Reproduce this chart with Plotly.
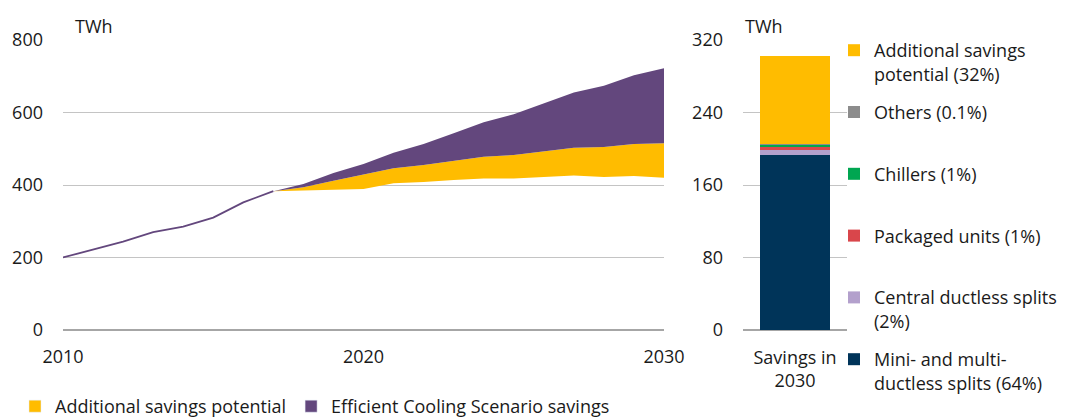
import plotly.graph_objects as go

# ---- data ----
hist_years = [2010, 2011, 2012, 2013, 2014, 2015, 2016, 2017]
hist_values = [200, 221, 244, 270, 285, 310, 352, 383]

proj_years = list(range(2017, 2031))
baseline = [383, 385, 386, 389, 405, 408, 414, 418, 418, 422, 426, 422, 425, 420]
additional_savings = [0, 9, 26, 41, 41, 47, 53, 60, 65, 72, 77, 83, 88, 95]
ecs_savings = [0, 9, 21, 28, 43, 58, 76, 95, 112, 131, 152, 169, 190, 207]

left_legend_names = ["Additional savings potential", "Efficient Cooling Scenario savings"]

bar_category = ["Savings in<br>2030"]
bar_names = [
    "Mini- and multi-<br>ductless splits (64%)",
    "Central ductless splits<br>(2%)",
    "Packaged units (1%)<br> ",
    "Chillers (1%)<br> ",
    "Others (0.1%)<br> ",
    "Additional savings<br>potential (32%)",
]
bar_values = [193.5, 5, 3.5, 2.5, 0.3, 97.5]
bar_colors = ["#003459", "#B3A0CC", "#D9464B", "#00A651", "#8C8C8C", "#FFBC00"]

YELLOW = "#FFBC00"
PURPLE = "#63477D"
FONT = "Open Sans"
FS = 18
TXT = "#1A1A1A"

# the page body has an 8px default margin; size the figure to fill the window
OX, OY = 8, 8
W, H = 1068 - OX, 418 - OY


def sx(x):
    return (x - OX) / W


def sy(y):
    return 1 - (y - OY) / H


xd1 = [sx(63), sx(664)]
xd2 = [sx(743), sx(847)]
yd = [sy(330), sy(40)]

fig = go.Figure()

# invisible base of the stack
fig.add_trace(go.Scatter(
    x=proj_years, y=baseline, stackgroup="s", mode="lines",
    line=dict(width=0, color="rgba(0,0,0,0)"), fillcolor="rgba(0,0,0,0)",
    showlegend=False, hoverinfo="skip", xaxis="x", yaxis="y"))
fig.add_trace(go.Scatter(
    x=proj_years, y=additional_savings, stackgroup="s", mode="lines",
    line=dict(width=0, color=YELLOW), fillcolor=YELLOW,
    name=left_legend_names[0], showlegend=False, legendgroup="add",
    xaxis="x", yaxis="y"))
fig.add_trace(go.Scatter(
    x=proj_years, y=ecs_savings, stackgroup="s", mode="lines",
    line=dict(width=0, color=PURPLE), fillcolor=PURPLE,
    name=left_legend_names[1], showlegend=False, legendgroup="ecs",
    xaxis="x", yaxis="y"))
fig.add_trace(go.Scatter(
    x=hist_years, y=hist_values, mode="lines",
    line=dict(width=1.8, color=PURPLE), showlegend=False,
    xaxis="x", yaxis="y"))

# legend entries (square swatches) for the area series
for nm, c, g in zip(left_legend_names, [YELLOW, PURPLE], ["add", "ecs"]):
    fig.add_trace(go.Bar(
        x=[None], y=[None], name=nm, marker=dict(color=c), legend="legend",
        legendgroup=g, xaxis="x", yaxis="y", hoverinfo="skip"))

for i, (nm, v, c) in enumerate(zip(bar_names, bar_values, bar_colors)):
    fig.add_trace(go.Bar(
        x=bar_category, y=[v], name=nm, marker=dict(color=c, line=dict(width=0)),
        width=0.673, legend="legend2", legendgroup="g%d" % i,
        legendrank=1000 - i, xaxis="x2", yaxis="y2"))

fig.update_layout(
    width=W, height=H,
    margin=dict(l=0, r=0, t=0, b=0, autoexpand=False),
    paper_bgcolor="white", plot_bgcolor="white",
    font=dict(family=FONT, size=FS, color=TXT),
    barmode="stack",
    xaxis=dict(domain=xd1, range=[2010, 2030], tickvals=[2010, 2020, 2030],
               showgrid=False, zeroline=False, showline=False, ticks="",
               ticklabelstandoff=14, anchor="y", automargin=False),
    yaxis=dict(domain=yd, range=[0, 800], tickvals=[0, 200, 400, 600, 800],
               showgrid=True, gridcolor="#C4C4C4", gridwidth=1,
               zeroline=True, zerolinecolor="#A6A6A6", zerolinewidth=2,
               showline=False, ticks="", ticklabelstandoff=19, anchor="x",
               automargin=False),
    xaxis2=dict(domain=xd2, range=[-0.5, 0.5], showgrid=False, zeroline=False,
                showline=False, ticks="", ticklabelstandoff=15, anchor="y2",
                type="category", automargin=False),
    yaxis2=dict(domain=yd, range=[0, 320], tickvals=[0, 80, 160, 240, 320],
                showgrid=True, gridcolor="#C4C4C4", gridwidth=1,
                zeroline=True, zerolinecolor="#A6A6A6", zerolinewidth=2,
                showline=False, ticks="", ticklabelstandoff=19, anchor="x2",
                automargin=False),
    legend=dict(orientation="h", x=sx(15), y=sy(388), xanchor="left",
                yanchor="top", font=dict(size=FS, family=FONT, color=TXT),
                bgcolor="rgba(0,0,0,0)", traceorder="normal"),
    legend2=dict(orientation="v", x=sx(834), y=sy(32), xanchor="left",
                 yanchor="top", font=dict(size=FS, family=FONT, color=TXT),
                 bgcolor="rgba(0,0,0,0)", traceorder="grouped",
                 tracegroupgap=12, valign="top"),
    annotations=[
        dict(text="TWh", x=sx(73), y=sy(26), xref="paper", yref="paper",
             showarrow=False, xanchor="left", yanchor="middle", font=dict(size=FS)),
        dict(text="TWh", x=sx(743), y=sy(26), xref="paper", yref="paper",
             showarrow=False, xanchor="left", yanchor="middle", font=dict(size=FS)),
    ],
)

fig.write_html("out.html")
